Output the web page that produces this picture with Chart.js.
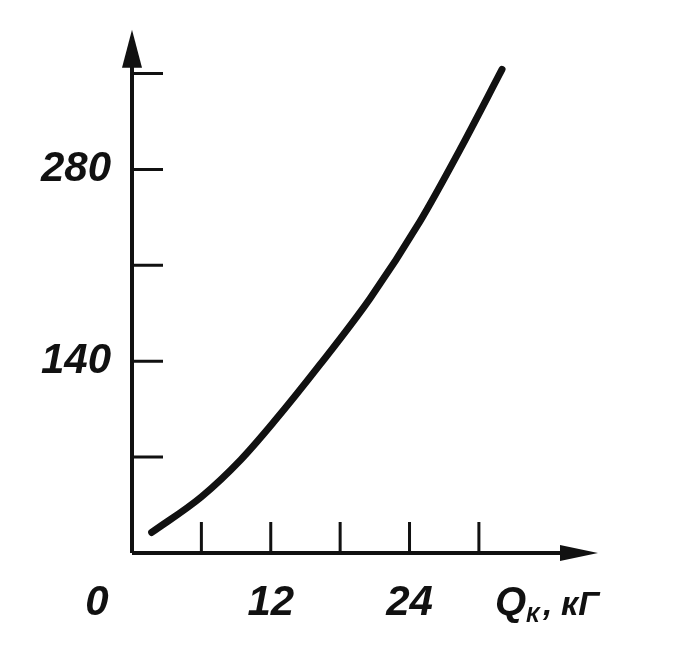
<!DOCTYPE html>
<html>
<head>
<meta charset="utf-8">
<script src="https://cdn.jsdelivr.net/npm/chart.js@4"></script>
<style>
  html, body { margin: 0; padding: 0; background: #fff; }
  #wrap { width: 692px; height: 648px; }
</style>
</head>
<body>
<div id="wrap"><canvas id="qChart" width="692" height="648"></canvas></div>
<script>
// values
const qValues = [1.7, 6, 9.4, 12.2, 16.3, 20.6, 24.9, 28.4, 32.0];
const yValues = [15, 41, 68, 95, 138, 186, 242, 295, 353];
const xTickMarks = [6, 12, 18, 24, 30];
const yTickMarks = [70, 140, 210, 280, 350];
const xTickLabels = [12, 24];
const yTickLabels = [140, 280];

const ink = '#111';
const fam = '"Liberation Sans", Arial, sans-serif';

// axes with arrows and inward ticks
const axesPlugin = {
  id: 'axes',
  afterDraw(chart) {
    const c = chart.ctx, xs = chart.scales.x, ys = chart.scales.y;
    const x0 = xs.getPixelForValue(0), y0 = ys.getPixelForValue(0);
    const xEnd = xs.right, yTop = ys.getPixelForValue(382);
    c.save();
    c.strokeStyle = ink; c.fillStyle = ink;
    c.lineWidth = 4;
    c.beginPath();
    c.moveTo(x0, y0); c.lineTo(xEnd - 20, y0);
    c.moveTo(x0, y0); c.lineTo(x0, yTop + 20);
    c.stroke();
    // arrowheads
    c.beginPath();
    c.moveTo(x0, yTop); c.lineTo(x0 - 10, yTop + 38); c.lineTo(x0 + 10, yTop + 38); c.closePath();
    c.fill();
    c.beginPath();
    c.moveTo(xEnd, y0); c.lineTo(xEnd - 38, y0 - 8); c.lineTo(xEnd - 38, y0 + 8); c.closePath();
    c.fill();
    // ticks
    c.lineWidth = 3;
    c.beginPath();
    xTickMarks.forEach(v => {
      const px = xs.getPixelForValue(v);
      c.moveTo(px, y0); c.lineTo(px, y0 - 31);
    });
    yTickMarks.forEach(v => {
      const py = ys.getPixelForValue(v);
      c.moveTo(x0, py); c.lineTo(x0 + 31, py);
    });
    c.stroke();
    // origin and axis title
    c.textBaseline = 'alphabetic';
    c.textAlign = 'center';
    c.font = 'italic bold 42px ' + fam;
    c.fillText('0', 97, 615);
    c.textAlign = 'left';
    c.font = 'italic bold 40px ' + fam;
    c.fillText('Q', 495, 615);
    c.font = 'italic bold 22px ' + fam;
    c.fillText('\u041A', 526, 622);
    c.font = 'italic bold 34px ' + fam;
    c.fillText(',', 543, 615);
    c.fillText('\u043A\u0413', 561, 615);
    c.restore();
  }
};

new Chart(document.getElementById('qChart'), {
  type: 'line',
  data: {
    datasets: [{
      data: qValues.map((q, i) => ({ x: q, y: yValues[i] })),
      borderColor: ink,
      borderWidth: 7,
      cubicInterpolationMode: 'monotone',
      pointRadius: 0,
      fill: false,
      borderCapStyle: 'round'
    }]
  },
  options: {
    responsive: false,
    animation: false,
    layout: { padding: { top: 12, right: 94, left: 0, bottom: 0 } },
    plugins: { legend: { display: false }, tooltip: { enabled: false } },
    scales: {
      x: {
        type: 'linear', min: 0, max: 40.3,
        grid: { display: false }, border: { display: false },
        afterFit: s => { s.height = 95; },
        afterBuildTicks: s => { s.ticks = xTickLabels.map(v => ({ value: v })); },
        ticks: { color: ink, padding: 17, font: { family: fam, size: 42, style: 'italic', weight: 'bold' }, maxRotation: 0 }
      },
      y: {
        type: 'linear', min: 0, max: 375.8,
        grid: { display: false }, border: { display: false },
        afterFit: s => { s.width = 132; },
        afterBuildTicks: s => { s.ticks = yTickLabels.map(v => ({ value: v })); },
        ticks: { color: ink, padding: 13, font: { family: fam, size: 42, style: 'italic', weight: 'bold' } }
      }
    }
  },
  plugins: [axesPlugin]
});
</script>
</body>
</html>
